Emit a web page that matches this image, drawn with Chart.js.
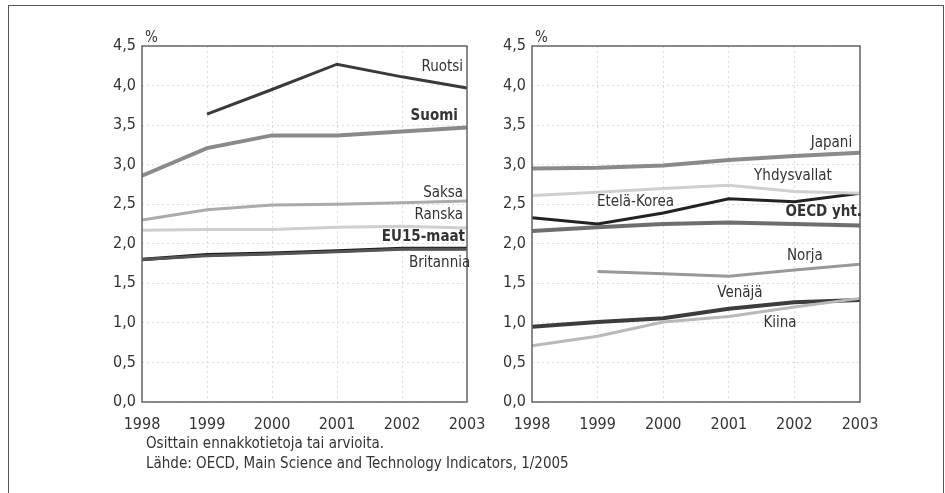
<!DOCTYPE html>
<html><head><meta charset="utf-8">
<script src="https://cdn.jsdelivr.net/npm/chart.js@4/dist/chart.umd.min.js"></script>
<style>
html,body{margin:0;padding:0;background:#fff;width:945px;height:493px;overflow:hidden;}
#frame{position:absolute;left:8px;top:5px;width:936px;height:520px;border:1.5px solid #555;box-sizing:border-box;}
.cv{position:absolute;top:0;}
#c1{left:0;}
#c2{left:390px;}
.note{position:absolute;left:146px;font-family:"Liberation Sans Narrow","DejaVu Sans Condensed",sans-serif;font-size:15px;color:#333;line-height:20px;}
</style></head><body>
<div id="frame"></div>
<div class="cv" id="c1"><canvas id="left" width="490" height="436"></canvas></div>
<div class="cv" id="c2"><canvas id="right" width="490" height="436"></canvas></div>
<div class="note" style="top:433px">Osittain ennakkotietoja tai arvioita.<br>Lähde: OECD, Main Science and Technology Indicators, 1/2005</div>
<script>
const years = ['1998','1999','2000','2001','2002','2003'];
const yMin = 0, yMax = 4.5, yStep = 0.5;

// Left panel series
const ruotsi    = [null, 3.64, 3.95, 4.27, 4.11, 3.97];
const suomi     = [2.86, 3.21, 3.37, 3.37, 3.42, 3.47];
const saksa     = [2.30, 2.43, 2.49, 2.50, 2.52, 2.54];
const ranska    = [2.17, 2.18, 2.18, 2.21, 2.22, 2.20];
const britannia = [1.80, 1.85, 1.87, 1.90, 1.93, 1.93];
const eu15      = [1.80, 1.86, 1.88, 1.91, 1.94, 1.94];

// Right panel series
const japani      = [2.95, 2.96, 2.99, 3.06, 3.11, 3.15];
const yhdysvallat = [2.61, 2.65, 2.70, 2.74, 2.66, 2.64];
const oecd        = [2.16, 2.21, 2.25, 2.27, 2.25, 2.23];
const korea       = [2.33, 2.25, 2.39, 2.57, 2.53, 2.64];
const norja       = [null, 1.65, 1.62, 1.59, 1.67, 1.74];
const kiina       = [0.71, 0.83, 1.01, 1.08, 1.20, 1.31];
const venaja      = [0.95, 1.01, 1.06, 1.18, 1.26, 1.29];

const FONT = '"Liberation Sans Narrow","DejaVu Sans Condensed",sans-serif';

const leftLabels = [
  {text:'Ruotsi', x:4.94, y:4.23, align:'right'},
  {text:'Suomi', x:4.86, y:3.62, align:'right', bold:true},
  {text:'Saksa', x:4.94, y:2.64, align:'right'},
  {text:'Ranska', x:4.94, y:2.36, align:'right'},
  {text:'EU15-maat', x:4.97, y:2.09, align:'right', bold:true},
  {text:'Britannia', x:5.05, y:1.76, align:'right'}
];
const rightLabels = [
  {text:'Japani', x:4.88, y:3.27, align:'right'},
  {text:'Yhdysvallat', x:4.57, y:2.86, align:'right'},
  {text:'Etelä-Korea', x:0.99, y:2.53, align:'left'},
  {text:'OECD yht.', x:5.03, y:2.40, align:'right', bold:true},
  {text:'Norja', x:4.16, y:1.85, align:'center'},
  {text:'Venäjä', x:3.17, y:1.38, align:'center'},
  {text:'Kiina', x:3.78, y:1.00, align:'center'}
];

function ds(label, data, color, width){
  return {label, data, borderColor:color, borderWidth:width, pointRadius:0, tension:0, fill:false, spanGaps:false};
}

const framePlugin = {
  id:'framePlugin',
  afterDatasetsDraw(chart, args, opts){
    const ctx = chart.ctx, a = chart.chartArea;
    const xs = chart.scales.x, ys = chart.scales.y;
    ctx.save();
    ctx.strokeStyle = '#666'; ctx.lineWidth = 1.5;
    ctx.strokeRect(a.left, a.top, a.right - a.left, a.bottom - a.top);
    ctx.fillStyle = '#333';
    ctx.font = '15px ' + FONT;
    ctx.textAlign = 'left'; ctx.textBaseline = 'alphabetic';
    ctx.fillText('%', a.left + 3, a.top - 4);
    ctx.textBaseline = 'middle';
    for (const l of opts.labels){
      ctx.font = (l.bold ? 'bold ' : '') + '15px ' + FONT;
      ctx.textAlign = l.align;
      ctx.fillText(l.text, xs.getPixelForValue(l.x), ys.getPixelForValue(l.y));
    }
    ctx.restore();
  }
};

function makeChart(id, datasets, labels, padRight){
  return new Chart(document.getElementById(id), {
    type:'line',
    data:{labels:years, datasets},
    options:{
      responsive:false, animation:false,
      layout:{padding:{top:46, right:padRight, left:0, bottom:0}},
      plugins:{legend:{display:false}, tooltip:{enabled:false}, framePlugin:{labels}},
      scales:{
        x:{
          offset:false,
          grid:{color:'#dcdcdc', drawTicks:false},
          border:{display:false, dash:[2,3]},
          ticks:{color:'#333', font:{family:FONT, size:16}, padding:13, maxRotation:0, autoSkip:false},
          afterFit(s){ s.height = 34; s.paddingLeft = 0; s.paddingRight = 0; }
        },
        y:{
          min:yMin, max:yMax,
          grid:{color:'#dcdcdc', drawTicks:false},
          border:{display:false, dash:[2,3]},
          ticks:{stepSize:yStep, color:'#333', font:{family:FONT, size:16}, padding:6,
            callback:v => v.toFixed(1).replace('.', ',')},
          afterFit(s){ s.width = 142; }
        }
      }
    },
    plugins:[framePlugin]
  });
}

makeChart('left', [
  ds('Ruotsi', ruotsi, '#3a3a3a', 3),
  ds('Suomi', suomi, '#8a8a8a', 4),
  ds('Saksa', saksa, '#ababab', 3),
  ds('Ranska', ranska, '#d0d0d0', 3),
  ds('Britannia', britannia, '#555', 3),
  ds('EU15-maat', eu15, '#1e1e1e', 3.5)
], leftLabels, 23);

makeChart('right', [
  ds('Japani', japani, '#8a8a8a', 4),
  ds('Yhdysvallat', yhdysvallat, '#d0d0d0', 3),
  ds('OECD yht.', oecd, '#6e6e6e', 4),
  ds('Etelä-Korea', korea, '#222', 3),
  ds('Norja', norja, '#999', 3),
  ds('Kiina', kiina, '#b9b9b9', 3),
  ds('Venäjä', venaja, '#3c3c3c', 4)
], rightLabels, 20);
</script>
</body></html>
